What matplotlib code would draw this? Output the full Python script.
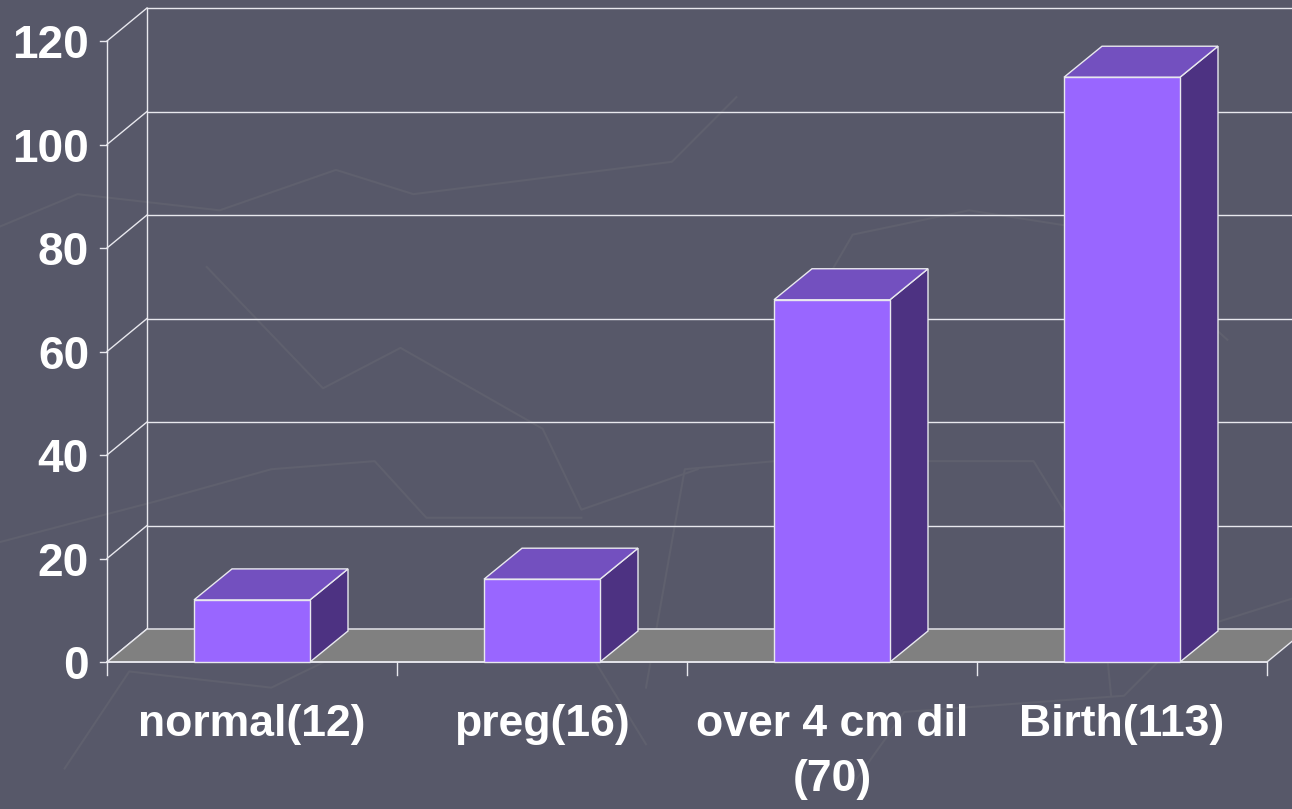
import matplotlib
matplotlib.use('Agg')
import matplotlib.pyplot as plt
from matplotlib.patches import Polygon

# ---- data ----
categories = ['normal(12)', 'preg(16)', 'over 4 cm dil\n(70)', 'Birth(113)']
values = [12, 16, 70, 113]
yticks = [0, 20, 40, 60, 80, 100, 120]

BG = '#575869'
FRONT = '#9966FF'
TOP = '#7350BF'
SIDE = '#4D3282'
FLOOR = '#808080'
LINE = '#E8E8EE'

W, H = 1292, 809
# front plane: x 107..1267 px for 4 categories, y 0 -> 662 px, 120 -> 41 px
px_cat = 290.0
px_unit = (662 - 41) / 120.0
x0_px, y0_px = 107, 662
fig = plt.figure(figsize=(W / 100, H / 100), dpi=100, facecolor=BG)
ax = fig.add_axes([0, 0, 1, 1], facecolor=BG)
ax.set_xlim(-x0_px / px_cat, (W - x0_px) / px_cat)
ax.set_ylim((y0_px - H) / px_unit, y0_px / px_unit)
ax.axis('off')

# depth offsets (data units)
wdx, wdy = 40 / px_cat, 33 / px_unit
bdx, bdy = 38 / px_cat, 31 / px_unit
ncat = len(categories)
xr = ax.get_xlim()[1] + 1

# faint background texture
deco = [[(0.00, 0.72), (0.06, 0.76), (0.17, 0.74), (0.26, 0.79), (0.32, 0.76), (0.52, 0.80), (0.57, 0.88)],
        [(0.16, 0.67), (0.25, 0.52), (0.31, 0.57), (0.42, 0.47), (0.45, 0.37), (0.54, 0.42)],
        [(0.00, 0.33), (0.12, 0.38), (0.21, 0.42), (0.29, 0.43), (0.33, 0.36), (0.45, 0.36)],
        [(0.50, 0.15), (0.53, 0.42), (0.60, 0.43), (0.80, 0.43), (0.85, 0.30), (0.86, 0.14)],
        [(0.62, 0.60), (0.66, 0.71), (0.75, 0.74), (0.83, 0.72), (0.88, 0.68), (0.95, 0.58)],
        [(0.05, 0.05), (0.10, 0.17), (0.21, 0.15), (0.30, 0.22), (0.45, 0.21), (0.50, 0.08)],
        [(0.66, 0.03), (0.70, 0.12), (0.87, 0.14), (0.92, 0.22), (1.00, 0.26)]]
for seg in deco:
    xs, ys = zip(*seg)
    fig.add_artist(plt.Line2D(xs, ys, transform=fig.transFigure, color='#5f606e', lw=1.5, zorder=0))

# floor
ax.add_patch(Polygon([(0, 0), (ncat, 0), (ncat + wdx, wdy), (wdx, wdy)],
                     closed=True, fc=FLOOR, ec=LINE, lw=1, zorder=2))
# back wall grid + side wall diagonals + y ticks
for v in yticks:
    ax.plot([wdx, xr], [v + wdy, v + wdy], color=LINE, lw=1, zorder=1)
    ax.plot([0, wdx], [v, v + wdy], color=LINE, lw=1, zorder=1)
    ax.plot([-7 / px_cat, 0], [v, v], color=LINE, lw=1, zorder=3)
    ax.text(-18 / px_cat, v - 1, str(v), ha='right', va='center', color='white',
            fontsize=33, fontweight='bold', family='Liberation Sans')
ax.plot([wdx, wdx], [wdy, yticks[-1] + wdy], color=LINE, lw=1, zorder=1)
ax.plot([0, 0], [0, yticks[-1]], color=LINE, lw=1, zorder=3)
# x axis + ticks
ax.plot([0, ncat], [0, 0], color=LINE, lw=1.2, zorder=3)
for i in range(ncat + 1):
    ax.plot([i, i], [0, -13 / px_unit], color=LINE, lw=1, zorder=3)

# bars
bw = 0.4
for i, (lab, v) in enumerate(zip(categories, values)):
    a, b = i + 0.5 - bw / 2, i + 0.5 + bw / 2
    ax.add_patch(Polygon([(b, 0), (b + bdx, bdy), (b + bdx, v + bdy), (b, v)],
                         closed=True, fc=SIDE, ec=LINE, lw=1, zorder=4))
    ax.add_patch(Polygon([(a, v), (b, v), (b + bdx, v + bdy), (a + bdx, v + bdy)],
                         closed=True, fc=TOP, ec=LINE, lw=1, zorder=4))
    ax.add_patch(Polygon([(a, 0), (b, 0), (b, v), (a, v)],
                         closed=True, fc=FRONT, ec=LINE, lw=1, zorder=5))
    ax.text(i + 0.5, -42 / px_unit, lab, ha='center', va='top', color='white',
            fontsize=32, fontweight='bold', family='Liberation Sans', linespacing=1.45)

fig.savefig('out.png', dpi=100, facecolor=BG)
